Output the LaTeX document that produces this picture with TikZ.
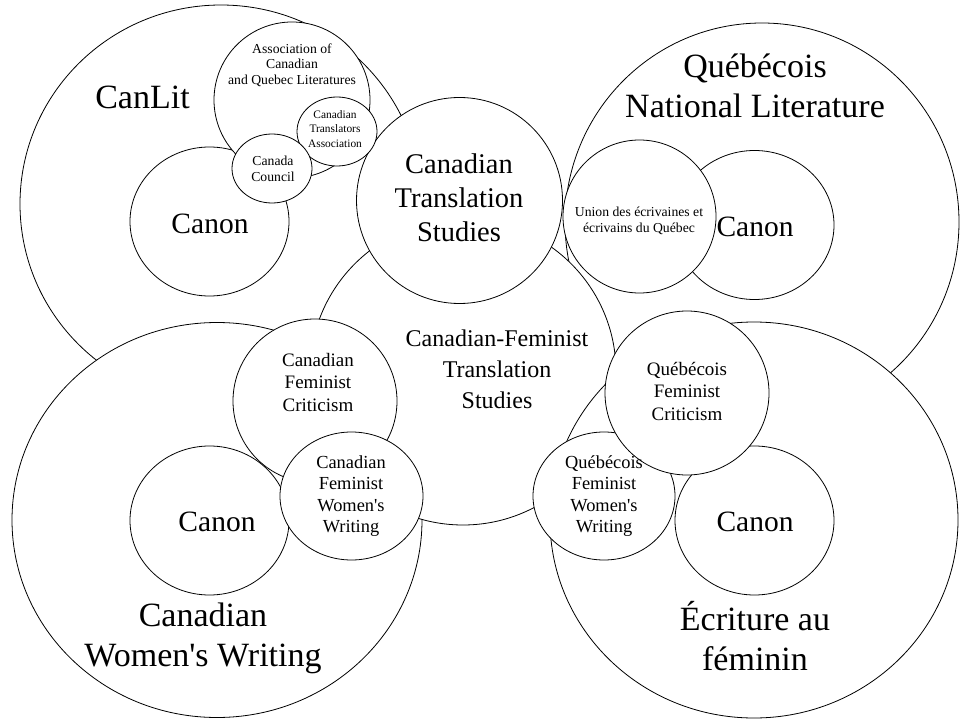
\documentclass[tikz,border=0pt]{standalone}
\usepackage{fontspec}
\setmainfont{Liberation Serif}
\usetikzlibrary{shapes.geometric}

\newcommand{\sizebig}{\fontsize{34}{40}\selectfont}
\newcommand{\sizects}{\fontsize{28.5}{34}\selectfont}
\newcommand{\sizecanon}{\fontsize{29.5}{34}\selectfont}
\newcommand{\sizecfts}{\fontsize{24}{31}\selectfont}
\newcommand{\sizesmall}{\fontsize{19}{22.5}\selectfont}
\newcommand{\sizeww}{\fontsize{18.4}{21.3}\selectfont}
\newcommand{\sizetiny}{\fontsize{13.7}{15.5}\selectfont}
\newcommand{\sizemini}{\fontsize{11.4}{14.5}\selectfont}

\begin{document}
\begin{tikzpicture}[x=1pt, y=-1pt]
        \tikzset{Ring/.style 2 args = {ellipse, draw, fill=white,
            line width    = 0.8pt,
            inner sep     = 0pt,
            minimum width = #1,
            minimum height= #2},
          Tag/.style = {align=center, inner sep=0pt}}
        \useasboundingbox (0,0) rectangle (960,719);
        % outer fields
        \node[Ring={402pt}{398pt}] (CanLit) at (221,204) {};
        \node[Ring={394pt}{398pt}] (QcLit) at (762,222) {};
        \node[Ring={410pt}{395pt}] (CanWW) at (217,520) {};
        \node[Ring={306pt}{306pt}] (CFTS) at (463,372) {};
        \node[Ring={408pt}{396pt}] (Ecrit) at (754,520) {};
        \node[Ring={206pt}{206pt}] (CTS) at (459.5,200.5) {};
        % inner circles
        \node[Ring={159pt}{149pt}] (CanonA) at (209.5,221.5) {};
        \node[Ring={156pt}{156pt}] (ACQL) at (292,100) {};
        \node[Ring={80pt}{69pt}] (CTA) at (337,131.5) {};
        \node[Ring={80pt}{69pt}] (CC) at (272,168.5) {};
        \node[Ring={159pt}{149pt}] (CanonB) at (754.5,225) {};
        \node[Ring={153pt}{153pt}] (UNEQ) at (639.5,216.5) {};
        \node[Ring={164pt}{164pt}] (CFC) at (315,401) {};
        \node[Ring={159pt}{149pt}] (CanonC) at (209.5,520.5) {};
        \node[Ring={143pt}{128pt}] (CFWW) at (351.5,496) {};
        \node[Ring={159pt}{149pt}] (CanonD) at (754.5,520.5) {};
        \node[Ring={142pt}{128pt}] (QFWW) at (604,496) {};
        \node[Ring={164pt}{164pt}] (QFC) at (687,393) {};
        % labels
        \node[Tag, font=\sizebig] (tCanLit) at (142.5,97) {CanLit};
        \node[Tag, font=\sizebig] (tQcLit) at (755,86) {Québécois\\National Literature};
        \node[Tag, font=\sizebig] (tCanWW) at (203,638) {Canadian\\Women\textquotesingle s Writing};
        \node[Tag, font=\sizebig] (tEcrit) at (755,636) {Écriture au\\féminin};
        \node[Tag, font=\sizects] (tCTS) at (459,198) {Canadian\\Translation\\Studies};
        \node[Tag, font=\sizecfts] (tCFTS) at (497,369) {Canadian-Feminist\\Translation\\Studies};
        \node[Tag, font=\sizecanon] (tCanonA) at (210,224) {Canon};
        \node[Tag, font=\sizecanon] (tCanonB) at (755,227) {Canon};
        \node[Tag, font=\sizecanon] (tCanonC) at (217,522) {Canon};
        \node[Tag, font=\sizecanon] (tCanonD) at (755,522) {Canon};
        \node[Tag, font=\sizetiny] (tACQL) at (292,65) {Association of\\Canadian\\and Quebec Literatures};
        \node[Tag, font=\sizemini] (tCTA) at (335,129) {Canadian\\Translators\\Association};
        \node[Tag, font=\sizetiny] (tCC) at (273,169) {Canada\\Council};
        \node[Tag, font=\sizetiny] (tUNEQ) at (639,221) {Union des écrivaines et\\écrivains du Québec};
        \node[Tag, font=\sizesmall] (tCFC) at (318,382) {Canadian\\Feminist\\Criticism};
        \node[Tag, font=\sizeww] (tCFWW) at (351,496) {Canadian\\Feminist\\Women\textquotesingle s\\Writing};
        \node[Tag, font=\sizesmall] (tQFC) at (687,391) {Québécois\\Feminist\\Criticism};
        \node[Tag, font=\sizeww] (tQFWW) at (604,496) {Québécois\\Feminist\\Women\textquotesingle s\\Writing};
      \end{tikzpicture}
\end{document}
